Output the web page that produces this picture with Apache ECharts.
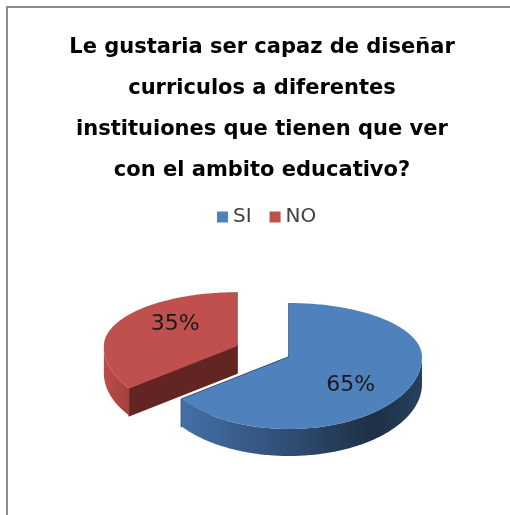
<!DOCTYPE html>
<html>
<head>
<meta charset="utf-8">
<script src="https://cdn.jsdelivr.net/npm/echarts@6/dist/echarts.min.js"></script>
<style>
  html, body { margin: 0; padding: 0; background: #ffffff; }
  #chart { width: 510px; height: 515px; }
</style>
</head>
<body>
<div id="chart"></div>
<script>
// Survey answers (percent of respondents)
const categories = ['SI', 'NO'];
const values = [65, 35];
const titleText = 'Le gustaria ser capaz de diseñar\ncurriculos a diferentes\ninstituiones que tienen que ver\ncon el ambito educativo?';

// Look of each slice: top colour, side colours and how far it is pulled out
const sliceStyles = {
  SI: {
    top: '#4F81BD',
    face: '#2a4468',
    wall: { type: 'linear', x: 0, y: 0, x2: 1, y2: 0, colorStops: [
      { offset: 0, color: '#4370a6' },
      { offset: 0.45, color: '#2f4d74' },
      { offset: 0.8, color: '#1e2f46' },
      { offset: 1, color: '#27415f' }
    ] },
    explode: 0
  },
  NO: {
    top: '#C0504D',
    face: '#632523',
    wall: { type: 'linear', x: 0, y: 0, x2: 1, y2: 0, colorStops: [
      { offset: 0, color: '#bd4c49' },
      { offset: 1, color: '#a3403d' }
    ] },
    explode: 0.44
  }
};

// Projected pie geometry (tilted disc: shallower at the back, deeper at the front)
const PIE = { cx: 289, cy: 357, rx: 133, ryBack: 54, ryFront: 72, depth: 27 };

const total = values.reduce((a, b) => a + b, 0);
const before = values.map((v, i) => values.slice(0, i).reduce((a, b) => a + b, 0));

function rimPoint(theta, ox, oy, dz) {
  const s = Math.sin(theta);
  const c = -Math.cos(theta); // positive = towards the viewer (down on screen)
  return [ox + PIE.rx * s, oy + (c > 0 ? PIE.ryFront : PIE.ryBack) * c + dz];
}

function arc(a0, a1, ox, oy, dz) {
  const pts = [];
  const n = Math.max(2, Math.ceil(Math.abs(a1 - a0) / (Math.PI / 180)));
  for (let k = 0; k <= n; k++) {
    pts.push(rimPoint(a0 + (a1 - a0) * k / n, ox, oy, dz));
  }
  return pts;
}

function makeRender(name) {
  const st = sliceStyles[name];
  return function (params, api) {
    const value = api.value(0);
    const start = api.value(1);
    const a0 = start / total * 2 * Math.PI;
    const a1 = (start + value) / total * 2 * Math.PI;
    const mid = (a0 + a1) / 2;
    const mc = -Math.cos(mid);
    const ox = PIE.cx + st.explode * PIE.rx * Math.sin(mid);
    const oy = PIE.cy + st.explode * (mc > 0 ? PIE.ryFront : PIE.ryBack) * mc;
    const D = PIE.depth;
    const children = [];

    // radial cut faces
    [a0, a1].forEach(function (a) {
      const p = rimPoint(a, ox, oy, 0);
      const q = rimPoint(a, ox, oy, D);
      children.push({
        type: 'polygon',
        shape: { points: [[ox, oy], p, q, [ox, oy + D]] },
        style: { fill: st.face, stroke: st.face, lineWidth: 1.5 }
      });
    });

    // outer wall, front half only
    const w0 = Math.max(a0, Math.PI / 2);
    const w1 = Math.min(a1, Math.PI * 1.5);
    if (w1 > w0) {
      const topArc = arc(w0, w1, ox, oy, 0);
      const botArc = arc(w0, w1, ox, oy, D).reverse();
      children.push({
        type: 'polygon',
        shape: { points: topArc.concat(botArc) },
        style: { fill: st.wall }
      });
    }

    // top face
    children.push({
      type: 'polygon',
      shape: { points: [[ox, oy]].concat(arc(a0, a1, ox, oy, 0)) },
      style: { fill: st.top }
    });

    // percentage label
    children.push({
      type: 'text',
      style: {
        text: Math.round(value / total * 100) + '%',
        x: ox + 0.52 * PIE.rx * Math.sin(mid),
        y: oy + 0.88 * (mc > 0 ? PIE.ryFront : PIE.ryBack) * mc,
        align: 'center',
        verticalAlign: 'middle',
        font: '22px "DejaVu Sans"',
        fill: '#1a1a1a'
      }
    });

    return { type: 'group', children: children };
  };
}

const chart = echarts.init(document.getElementById('chart'), null, { renderer: 'canvas' });

const series = categories.map(function (name, i) {
  return {
    type: 'custom',
    name: name,
    coordinateSystem: 'none',
    z: name === 'SI' ? 3 : 2,
    itemStyle: { color: sliceStyles[name].top },
    silent: true,
    animation: false,
    data: [[values[i], before[i]]],
    renderItem: makeRender(name)
  };
});

chart.setOption({
  backgroundColor: '#ffffff',
  animation: false,
  title: {
    text: titleText,
    left: 257,
    textAlign: 'center',
    top: 22,
    textStyle: {
      fontFamily: 'DejaVu Sans',
      fontWeight: 'bold',
      fontSize: 21,
      lineHeight: 41,
      color: '#000000'
    }
  },
  legend: {
    data: categories,
    left: 212,
    top: 202,
    icon: 'rect',
    itemWidth: 11,
    itemHeight: 11,
    itemGap: 18,
    textStyle: { fontFamily: 'DejaVu Sans', fontSize: 20, color: '#404040' }
  },
  graphic: [{
    type: 'polyline',
    shape: { points: [[7, 515], [7, 7], [510, 7]] },
    style: { stroke: '#8c8c8c', lineWidth: 2, fill: null },
    silent: true
  }],
  series: series
});
</script>
</body>
</html>
